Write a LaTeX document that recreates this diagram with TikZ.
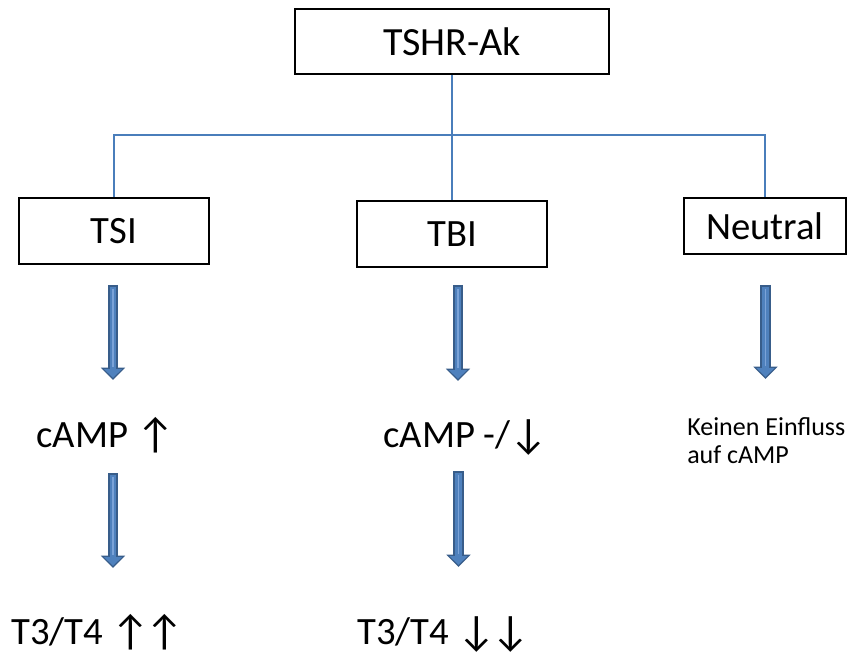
\documentclass[tikz,border=0pt]{standalone}
\usepackage{fontspec}
\setmainfont{Carlito}
\usetikzlibrary{arrows.meta}
\definecolor{connblue}{HTML}{4A7EBB}
\definecolor{arrdark}{HTML}{385D8A}
\definecolor{arrfill}{HTML}{4F81BD}
\definecolor{arrlight}{HTML}{7BA3D8}
\newcommand{\bigarr}[1]{{\fontsize{32}{32}\selectfont\raisebox{-1.2pt}{#1}}}
\tikzset{
  box/.style={draw=black, line width=1.3pt, inner sep=0pt, fill=white},
  big/.style={font=\fontsize{29}{34}\selectfont},
  small/.style={font=\fontsize{19.5}{21}\selectfont, align=left, inner sep=0pt},
  lbl/.style={big, inner sep=0pt, anchor=base west},
  conn/.style={draw=connblue, line width=1.1pt},
  arrout/.style={draw=arrdark, line width=7.8pt, -{Triangle[width=17.6pt,length=9.2pt]}},
  arrin/.style={draw=arrfill, line width=5.2pt, shorten <=1.3pt, shorten >=1.6pt, -{Triangle[width=13.2pt,length=6.6pt]}},
  arrhi/.style={draw=arrlight, line width=1.4pt, shorten <=3pt, shorten >=10pt}
}
\newcommand{\blockarr}[2]{%
  \draw[arrout] (#1) -- (#2);
  \draw[arrin] (#1) -- (#2);
  \draw[arrhi] (#1) -- (#2);
}
\begin{document}
\begin{tikzpicture}[x=0.75pt, y=-0.75pt]
\useasboundingbox (0,0) rectangle (848,655);
% boxes
\node[box, minimum width=235.5pt, minimum height=48.75pt, font=\fontsize{30}{36}\selectfont] (root) at (452,41.5) {TSHR-Ak};
\node[box, big, minimum width=142.5pt, minimum height=49.5pt] (tsi) at (114,231) {TSI};
\node[box, big, minimum width=142.5pt, minimum height=49.5pt] (tbi) at (452,234) {TBI};
\node[box, big, minimum width=121.5pt, minimum height=42pt] (neu) at (765,226) {Neutral};
% connectors
\coordinate (hub) at (452,135);
\draw[conn] (root.south) -- (tbi.north);
\draw[conn] (tsi.north) |- (hub) -| (neu.north);
% texts
\node[lbl] (camp1) at (36,447) {cAMP \bigarr{↑}};
\node[lbl] (camp2) at (383,447) {cAMP -/\kern-1pt\bigarr{↓}};
\node[small, anchor=north west] (noinf) at (687,417) {Keinen Einfluss\\auf cAMP};
\node[lbl] (t1) at (11,644) {T3/T4 \bigarr{↑}\kern-4pt\bigarr{↑}};
\node[lbl] (t2) at (357,644) {T3/T4 \bigarr{↓}\kern-4pt\bigarr{↓}};
% block arrows
\coordinate (a1s) at (113,285); \coordinate (a1e) at (113,380);
\coordinate (a2s) at (458,285); \coordinate (a2e) at (458,381);
\coordinate (a3s) at (765.5,285); \coordinate (a3e) at (765.5,379);
\coordinate (a4s) at (113,473); \coordinate (a4e) at (113,568);
\coordinate (a5s) at (458.5,471); \coordinate (a5e) at (458.5,567);
\blockarr{a1s}{a1e}
\blockarr{a2s}{a2e}
\blockarr{a3s}{a3e}
\blockarr{a4s}{a4e}
\blockarr{a5s}{a5e}
\end{tikzpicture}
\end{document}
